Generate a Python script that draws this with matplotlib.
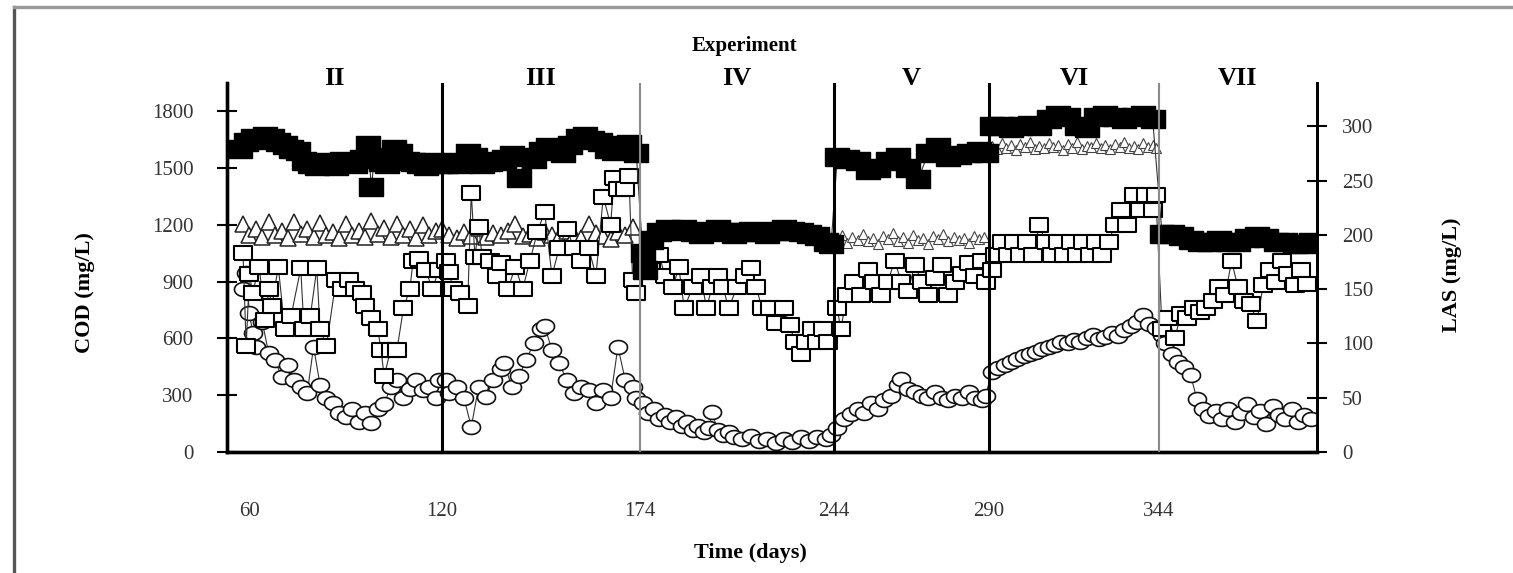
import numpy as np
import matplotlib
matplotlib.use('Agg')
import matplotlib.pyplot as plt
from matplotlib.lines import Line2D

plt.rcParams['font.family'] = ['Liberation Serif', 'DejaVu Serif']

# ---- data ----
phase_days = [120, 174, 244, 290, 344]
phase_heavy = [True, False, True, True, False]
phase_labels = ['II', 'III', 'IV', 'V', 'VI', 'VII']
xtick_days = [60, 120, 174, 244, 290, 344]

# COD influent (filled squares, left axis)
cod_in_days = [57, 59, 61, 63, 65, 67, 69, 71, 73, 75, 77, 79, 81, 83, 85, 87, 89, 91, 93, 95,
               97, 98, 99, 101, 103, 105, 107, 109, 111, 113, 115, 117, 119,
               121, 123, 125, 127, 129, 131, 133, 135, 137, 139, 141, 143, 145, 147, 149, 151,
               153, 155, 157, 159, 161, 163, 165, 167, 169, 171, 173,
               175, 176, 178, 181, 184, 187, 190, 193, 196, 199, 202, 205, 208, 211, 214, 217,
               220, 223, 226, 229, 232, 235, 238, 241, 243,
               245, 248, 251, 254, 257, 260, 263, 266, 269, 272, 275, 278, 281, 284, 287, 289,
               291, 294, 297, 300, 303, 306, 309, 312, 315, 318, 321, 324, 327, 330, 333, 336, 339, 342,
               345, 348, 351, 354, 357, 360, 363, 366, 369, 372, 375, 378, 381, 384, 387, 390, 392]
cod_in = [1600, 1640, 1660, 1650, 1670, 1660, 1640, 1620, 1600, 1590, 1540, 1520, 1510, 1530, 1520, 1510, 1540, 1530, 1520, 1550,
          1620, 1400, 1560, 1530, 1520, 1600, 1580, 1540, 1530, 1520, 1510, 1530, 1520,
          1520, 1530, 1520, 1580, 1560, 1520, 1530, 1540, 1550, 1570, 1450, 1560, 1550, 1590, 1610, 1600,
          1580, 1620, 1660, 1670, 1650, 1640, 1600, 1590, 1620, 1630, 1580,
          1050, 960, 1120, 1160, 1180, 1170, 1180, 1160, 1150, 1170, 1180, 1160, 1150, 1160, 1170, 1160,
          1150, 1170, 1180, 1170, 1160, 1150, 1140, 1110, 1100,
          1560, 1550, 1540, 1490, 1500, 1540, 1560, 1500, 1440, 1580, 1610, 1560, 1570, 1580, 1590, 1580,
          1720, 1720, 1710, 1720, 1730, 1720, 1760, 1780, 1770, 1720, 1710, 1770, 1780, 1770, 1760, 1770, 1780, 1760,
          1150, 1150, 1140, 1120, 1110, 1110, 1120, 1110, 1110, 1130, 1140, 1130, 1110, 1110, 1100, 1100, 1110]

# COD effluent (open squares, left axis)
cod_out_days = [58, 59, 60, 61, 63, 65, 66, 67, 69, 71, 73, 76, 77, 79, 81, 82, 84, 87, 89, 91, 93, 95, 96, 98,
                100, 101, 102, 104, 106, 108, 110, 111, 113, 115, 117, 119,
                121, 122, 123, 125, 127, 128, 129, 130, 131, 133, 135, 136, 138, 140, 142, 144, 146, 148,
                150, 152, 154, 156, 158, 160, 162, 164, 166, 167, 168, 170, 171, 172, 173,
                176, 178, 181, 183, 186, 188, 190, 193, 196, 198, 200, 202, 204, 206, 209, 212, 214, 216,
                218, 221, 223, 226, 228, 230, 232, 234, 236, 238, 240, 242,
                245, 246, 248, 250, 252, 254, 256, 258, 260, 262, 264, 266, 268, 270, 272, 274, 276, 278,
                280, 282, 284, 286, 288, 289,
                291, 292, 294, 296, 298, 300, 302, 304, 306, 308, 310, 312, 314, 316, 318, 320, 322, 324,
                326, 328, 330, 332, 334, 336, 338, 340, 342, 343,
                345, 347, 349, 351, 353, 355, 357, 359, 361, 363, 365, 367, 369, 371, 373, 375, 377, 379,
                381, 383, 385, 387, 389, 391]
cod_out = [1050, 560, 940, 840, 980, 700, 860, 770, 980, 650, 720, 970, 650, 720, 970, 650, 560, 910, 860, 910, 860, 840, 770, 710,
           650, 540, 400, 540, 540, 760, 860, 1010, 1020, 960, 860, 960,
           1010, 950, 860, 840, 770, 1370, 1030, 1190, 1030, 1010, 930, 1000, 860, 980, 860, 1010, 1160, 1270,
           930, 1080, 1180, 1080, 1010, 1080, 930, 1350, 1200, 1450, 1390, 1390, 1460, 910, 840,
           1050, 960, 1040, 930, 870, 980, 760, 870, 930, 760, 870, 930, 870, 760, 870, 930, 970, 870,
           760, 760, 680, 760, 670, 580, 520, 580, 650, 580, 650, 580,
           760, 650, 830, 900, 830, 960, 900, 830, 900, 1010, 900, 850, 990, 900, 830, 920, 990, 830,
           900, 940, 1000, 930, 1010, 900,
           960, 1040, 1110, 1040, 1110, 1040, 1110, 1040, 1200, 1110, 1040, 1110, 1040, 1110, 1040, 1110, 1040, 1110,
           1040, 1110, 1200, 1280, 1200, 1360, 1280, 1360, 1280, 1360,
           650, 710, 600, 730, 710, 760, 740, 760, 800, 870, 830, 1010, 870, 800, 780, 690, 880, 960,
           900, 1010, 940, 880, 960, 890]

# LAS influent (open triangles, right axis)
las_in_days = [58, 60, 62, 64, 66, 68, 70, 72, 74, 76, 78, 80, 82, 84, 86, 88, 90, 92, 94, 96, 98, 100,
               102, 104, 106, 108, 110, 112, 114, 116, 118,
               120, 122, 124, 126, 128, 130, 132, 134, 136, 138, 140, 142, 144, 146, 148, 150, 152, 154,
               156, 158, 160, 162, 164, 166, 168, 170, 172,
               245, 246.5, 248, 249.5, 251, 252.5, 254, 255.5, 257, 258.5, 260, 261.5, 263, 264.5, 266,
               267.5, 269, 270.5, 272, 273.5, 275, 276.5, 278, 279.5, 281, 282.5, 284, 285.5, 287, 288.5,
               291, 292.5, 294, 295.5, 297, 298.5, 300, 301.5, 303, 304.5, 306, 307.5, 309, 310.5, 312,
               313.5, 315, 316.5, 318, 319.5, 321, 322.5, 324, 325.5, 327, 328.5, 330, 331.5, 333, 334.5,
               336, 337.5, 339, 340.5, 342, 343]
las_in = [210, 200, 205, 198, 212, 200, 204, 197, 212, 201, 205, 198, 211, 200, 203, 197, 210, 200, 204, 198, 213, 201,
          206, 198, 210, 200, 205, 197, 209, 200, 204,
          205, 200, 197, 203, 199, 206, 198, 202, 200, 204, 210, 199, 201, 197, 203, 200, 198, 204,
          200, 197, 210, 202, 199, 196, 203, 200, 207,
          196, 200, 193, 198, 195, 201, 194, 197, 192, 199, 196, 202, 194, 198, 193, 200, 195, 197,
          192, 199, 196, 201, 194, 198, 195, 197, 193, 199, 196, 198,
          282, 279, 285, 280, 283, 278, 284, 281, 286, 279, 282, 280, 285, 281, 283, 278, 284, 280,
          286, 279, 282, 281, 285, 280, 283, 279, 284, 281, 286, 280, 282, 279, 285, 281, 283, 280]

# LAS effluent (open circles, right axis)
las_out_days = [58, 59, 60, 61, 62, 64, 66, 68, 70, 72, 74, 76, 78, 80, 82, 84, 86, 88, 90, 92, 94, 96, 98,
                100, 102, 104, 106, 108, 110, 112, 114, 116, 118, 119,
                121, 122, 124, 126, 128, 130, 132, 134, 136, 137, 139, 141, 143, 145, 147, 148, 150, 152,
                154, 156, 158, 160, 162, 164, 166, 168, 170, 172, 173,
                175, 177, 179, 181, 183, 185, 187, 189, 191, 193, 195, 197, 199, 200, 202, 204, 206, 208,
                211, 214, 217, 220, 223, 226, 229, 232, 235, 238, 241, 243,
                245, 247, 249, 251, 253, 255, 257, 259, 261, 263, 264, 266, 268, 270, 272, 274, 276, 278,
                280, 282, 284, 286, 288, 289,
                291, 293, 295, 297, 299, 301, 303, 305, 307, 309, 311, 313, 315, 317, 319, 321, 323, 325,
                327, 329, 331, 333, 335, 337, 339, 341, 343,
                345, 346, 348, 350, 352, 354, 356, 358, 360, 362, 364, 366, 368, 370, 372, 374, 376, 378,
                380, 382, 384, 386, 388, 390, 392]
las_out = [150, 165, 128, 110, 97, 120, 91, 85, 69, 80, 66, 60, 54, 97, 62, 50, 45, 36, 32, 40, 28, 36, 27,
           40, 44, 60, 66, 50, 58, 66, 57, 60, 50, 66,
           66, 54, 60, 50, 23, 60, 51, 66, 76, 82, 60, 70, 85, 100, 113, 116, 94, 82,
           66, 54, 60, 57, 45, 57, 50, 97, 66, 60, 50,
           45, 36, 40, 30, 34, 28, 32, 24, 28, 20, 24, 18, 22, 37, 20, 16, 18, 14,
           12, 15, 10, 12, 8, 12, 9, 14, 10, 14, 12, 16,
           22, 30, 35, 40, 36, 45, 40, 48, 52, 62, 67, 58, 55, 52, 50, 55, 50, 48,
           52, 50, 55, 50, 48, 52,
           74, 77, 80, 83, 86, 88, 90, 92, 95, 97, 99, 101, 100, 103, 101, 105, 108, 104,
           106, 110, 107, 112, 116, 120, 126, 118, 114,
           108, 100, 90, 83, 78, 71, 49, 40, 33, 38, 30, 40, 28, 36, 44, 32, 38, 26,
           42, 34, 30, 40, 28, 34, 30]

# non-uniform time axis of the original (day -> relative position)
axis_days = [53, 120, 174, 244, 290, 344, 394]
axis_pos = [0, 215, 413, 607, 762, 932, 1090]


def fwd(d):
    return np.interp(d, axis_days, axis_pos)


def inv(p):
    return np.interp(p, axis_pos, axis_days)


# wide-ish markers (the scan is stretched horizontally)
sq = [(-1.3, -1), (1.3, -1), (1.3, 1), (-1.3, 1), (-1.3, -1)]
t = np.linspace(0, 2 * np.pi, 40)
ell = list(zip(1.3 * np.cos(t), np.sin(t)))

fig = plt.figure(figsize=(15.13, 5.73), dpi=100)
ax_las = fig.add_axes([0.15, 0.2112, 0.7204, 0.644])
ax_cod = ax_las.twinx()

# LAS on the host axes (drawn underneath), ticks on the right
ax_las.yaxis.tick_right()
ax_las.yaxis.set_label_position('right')
ax_cod.yaxis.tick_left()
ax_cod.yaxis.set_label_position('left')

for a in (ax_las, ax_cod):
    a.set_xscale('function', functions=(fwd, inv))
    a.set_xlim(53, 394)

ax_las.set_ylim(0, 340)
ax_cod.set_ylim(0, 1950)

lin = dict(color='#333333', lw=0.8)

# LAS influent triangles: big in II-III, small dense in V-VI
big = [i for i, d in enumerate(las_in_days) if d < 200]
small = [i for i, d in enumerate(las_in_days) if d > 200]
ax_las.plot([las_in_days[i] for i in big], [las_in[i] for i in big], marker='^', ms=11,
            mfc='white', mec='#222222', mew=1.1, ls='none', zorder=2)
ax_las.plot([las_in_days[i] for i in small], [las_in[i] for i in small], marker='^', ms=7,
            mfc='white', mec='#444444', mew=0.8, ls='none', zorder=2)

ax_las.plot(las_out_days, las_out, marker=ell, ms=13, mfc='white', mec='#111111', mew=1.2,
            zorder=3, **lin)

ax_cod.plot(cod_out_days, cod_out, marker=sq, ms=13.5, mfc='white', mec='black', mew=1.5,
            zorder=4, **lin)
ax_cod.plot(cod_in_days, cod_in, marker=sq, ms=17, mfc='black', mec='black', mew=1,
            zorder=5, **lin)

# phase boundaries
for d, heavy in zip(phase_days, phase_heavy):
    ax_cod.axvline(d, color='black' if heavy else '#8a8a8a', lw=2.2 if heavy else 1.5, zorder=6)

# phase names centred in each segment
edges = [53] + phase_days + [394]
for i, name in enumerate(phase_labels):
    mid = inv((fwd(edges[i]) + fwd(edges[i + 1])) / 2)
    ax_cod.text(mid, 1.013, name, transform=ax_cod.get_xaxis_transform(), ha='center',
                va='center', fontsize=19, fontweight='bold')

# spines and ticks
for a in (ax_las, ax_cod):
    a.spines['top'].set_visible(False)
    a.spines['left'].set_linewidth(2.4)
    a.spines['bottom'].set_linewidth(2.4)
    a.spines['right'].set_linewidth(2.0)

ax_cod.set_yticks([0, 300, 600, 900, 1200, 1500, 1800])
ax_las.set_yticks([0, 50, 100, 150, 200, 250, 300])
ax_cod.tick_params(axis='y', direction='inout', length=14, width=1.5, pad=17,
                   labelsize=15, labelcolor='#333333')
ax_las.tick_params(axis='y', direction='inout', length=14, width=1.5, pad=11,
                   labelsize=15, labelcolor='#333333')
ax_las.set_xticks(xtick_days)
ax_las.set_xticklabels([str(v) for v in xtick_days])
ax_las.tick_params(axis='x', length=0, pad=36, labelsize=15, labelcolor='#333333')
ax_cod.tick_params(axis='x', length=0, labelbottom=False)

fig.text(0.056, 0.489, 'COD (mg/L)', rotation=90, ha='center', va='center',
         fontsize=16, fontweight='bold')
fig.text(0.96, 0.52, 'LAS (mg/L)', rotation=90, ha='center', va='center',
         fontsize=16, fontweight='bold')
fig.text(0.496, 0.035, 'Time (days)', ha='center', va='center', fontsize=16, fontweight='bold')
fig.text(0.492, 0.92, 'Experiment', ha='center', va='center', fontsize=15, fontweight='bold')

# scan frame (left and top edges)
fig.add_artist(Line2D([0.0093, 0.0093], [0, 0.987], color='#555555', lw=2.4))
fig.add_artist(Line2D([0.0093, 1], [0.987, 0.987], color='#9a9a9a', lw=2.4))

fig.savefig('out.png', dpi=100)
